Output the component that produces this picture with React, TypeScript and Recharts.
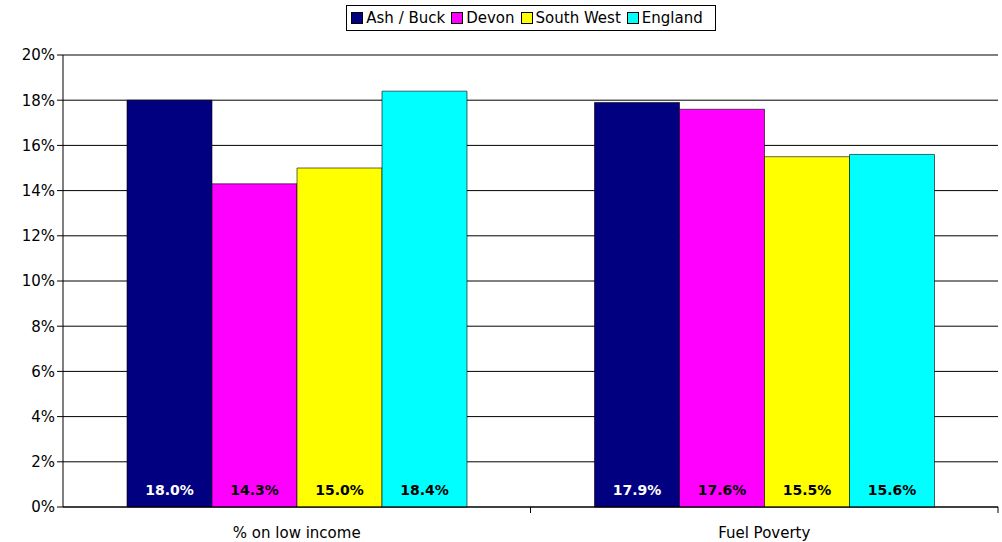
import React from 'react';
import {
  BarChart,
  Bar,
  XAxis,
  YAxis,
  CartesianGrid,
  LabelList
} from 'recharts';

const categories = ['% on low income', 'Fuel Poverty'];
const ashBuck = [0.18, 0.179];
const devon = [0.143, 0.176];
const southWest = [0.15, 0.155];
const england = [0.184, 0.156];
const yTicks = [0, 0.02, 0.04, 0.06, 0.08, 0.1, 0.12, 0.14, 0.16, 0.18, 0.2];

const seriesList = [
  { key: 'ashBuck', name: 'Ash / Buck', color: '#000080', labelColor: '#ffffff' },
  { key: 'devon', name: 'Devon', color: '#ff00ff', labelColor: '#000000' },
  { key: 'southWest', name: 'South West', color: '#ffff00', labelColor: '#000000' },
  { key: 'england', name: 'England', color: '#00ffff', labelColor: '#000000' }
];

const data = categories.map((name, i) => ({
  name,
  ashBuck: ashBuck[i],
  devon: devon[i],
  southWest: southWest[i],
  england: england[i]
}));

const FONT = '"DejaVu Sans", Verdana, sans-serif';

const pct = (v: number) => `${Math.round(v * 100)}%`;

// category label at the centre, tick mark at the right-hand boundary
const CategoryTick = (props: any) => {
  const { x, y, payload } = props;
  const half = (1002 - 63 - 4) / categories.length / 2;
  return (
    <g>
      <line x1={x + half} y1={y - 8} x2={x + half} y2={y - 2} stroke="#000" />
      <text x={x} y={y + 23} textAnchor="middle" fontSize={15} fontFamily={FONT} fill="#000">
        {payload.value}
      </text>
    </g>
  );
};

const makeLabel = (color: string) => (props: any) => {
  const { x, y, width, height, value } = props;
  return (
    <text
      x={x + width / 2}
      y={y + height - 12}
      textAnchor="middle"
      fontSize={14}
      fontWeight="bold"
      fontFamily={FONT}
      fill={color}
    >
      {(value * 100).toFixed(1)}%
    </text>
  );
};

const LegendBox = () => (
  <div
    style={{
      position: 'absolute',
      top: 5,
      left: 0,
      width: 1002,
      display: 'flex',
      justifyContent: 'center',
      paddingLeft: 60,
      boxSizing: 'border-box'
    }}
  >
    <div
      style={{
        display: 'flex',
        alignItems: 'center',
        border: '1px solid #000',
        height: 24,
        padding: '0 6px 0 4px',
        fontFamily: FONT,
        fontSize: 15,
        background: '#fff'
      }}
    >
      {seriesList.map(s => (
        <span key={s.key} style={{ display: 'flex', alignItems: 'center', marginRight: 6 }}>
          <span
            style={{
              display: 'inline-block',
              width: 10,
              height: 10,
              background: s.color,
              border: '1px solid #000',
              marginRight: 3
            }}
          />
          {s.name}
        </span>
      ))}
    </div>
  </div>
);

const App: React.FC = () => {
  return (
    <div style={{ position: 'absolute', left: 0, top: 0, width: 1002, height: 542, background: '#fff' }}>
      <BarChart
        width={1002}
        height={542}
        data={data}
        margin={{ top: 55, right: 4, left: 0, bottom: 0 }}
        barCategoryGap={64}
        barGap={0}
      >
        <CartesianGrid vertical={false} stroke="#000" strokeWidth={1} />
        <XAxis
          dataKey="name"
          axisLine={{ stroke: '#000' }}
          tickLine={false}
          height={35}
          interval={0}
          tick={<CategoryTick />}
        />
        <YAxis
          width={63}
          domain={[0, 0.2]}
          ticks={yTicks}
          tickFormatter={pct}
          axisLine={{ stroke: '#000' }}
          tickLine={{ stroke: '#000' }}
          tickSize={6}
          tick={{ fill: '#000', fontSize: 15, fontFamily: FONT }}
        />
        {seriesList.map(s => (
          <Bar
            key={s.key}
            dataKey={s.key}
            name={s.name}
            fill={s.color}
            stroke="#000"
            strokeWidth={0.6}
            isAnimationActive={false}
          >
            <LabelList dataKey={s.key} content={makeLabel(s.labelColor)} />
          </Bar>
        ))}
      </BarChart>
      <LegendBox />
    </div>
  );
};

export default App;
